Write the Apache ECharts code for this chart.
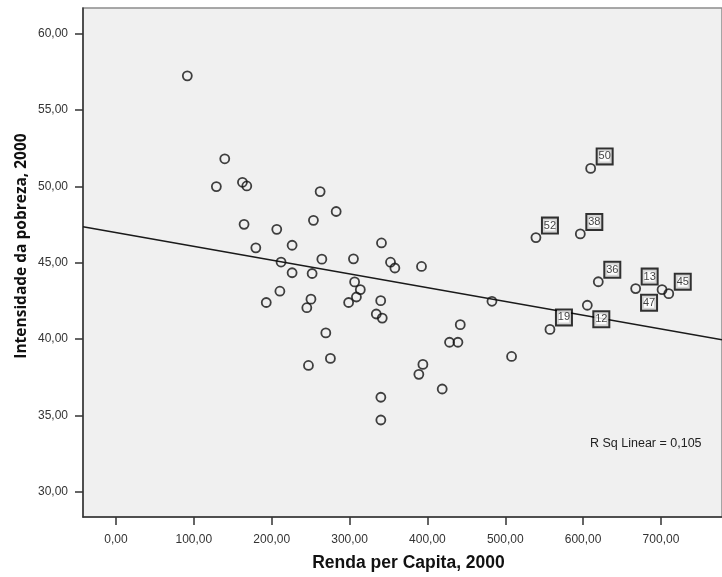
<!DOCTYPE html>
<html>
<head>
<meta charset="utf-8">
<script src="https://cdn.jsdelivr.net/npm/echarts@6/dist/echarts.min.js"></script>
<style>
  html, body { margin: 0; padding: 0; background: #fff; }
  #chart { width: 722px; height: 577px; }
</style>
</head>
<body>
<div id="chart"></div>
<script>
// Renda per capita (x) e intensidade da pobreza (y), pontos sem rótulo
const renda = [
  91.6, 139.7, 128.9, 162.4, 168, 262.2, 282.8, 164.5, 253.6, 206.5,
  179.6, 226.2, 212, 264.4, 305, 226.2, 251.9, 306.5, 210.5, 193,
  250.4, 245.1, 298.8, 308.8, 313.8, 269.5, 247.2, 275.4, 341, 352.6,
  358.2, 392.4, 340, 334.3, 342, 482.9, 442.2, 428.4, 439.2, 508.1,
  394.2, 389, 419, 340.2, 340.2
];
const pobreza = [
  57.24, 51.81, 49.99, 50.27, 50.03, 49.66, 48.36, 47.52, 47.78, 47.19,
  45.98, 46.15, 45.05, 45.24, 45.26, 44.35, 44.3, 43.75, 43.14, 42.4,
  42.62, 42.06, 42.4, 42.76, 43.24, 40.41, 38.28, 38.74, 46.3, 45.04,
  44.66, 44.76, 42.52, 41.65, 41.38, 42.48, 40.95, 39.8, 39.8, 38.87,
  38.35, 37.7, 36.74, 36.2, 34.71
];

// Casos rotulados
const caseIds = ["52", "38", "50", "36", "13", "47", "45", "19", "12"];
const caseRenda = [539.4, 596.4, 609.7, 619.5, 667.5, 701.4, 710, 557.4, 605.4];
const casePobreza = [46.65, 46.89, 51.18, 43.76, 43.31, 43.24, 42.98, 40.64, 42.22];

// Reta de regressão
const fitIntercept = 46.98;
const fitSlope = -0.00902;
const rSq = "0,105";

const xTicks = [0, 100, 200, 300, 400, 500, 600, 700];
const yTicks = [30, 35, 40, 45, 50, 55, 60];

const xMin = -42.4, xMax = 778.4;
const yMin = 28.36, yMax = 61.68;

// posição da caixa do rótulo em relação ao ponto
const labelOffset = { "47": [-13, 13], "12": [14, 14] };

const fmt = v => v.toFixed(2).replace(".", ",");

const plainPoints = renda.map((x, i) => [x, pobreza[i]]);
const labeledPoints = caseIds.map((id, i) => ({
  value: [caseRenda[i], casePobreza[i]],
  label: { offset: labelOffset[id] || [14, -12] },
  name: id
}));

const chart = echarts.init(document.getElementById("chart"));
const circle = {
  color: "rgba(0,0,0,0)",
  borderColor: "#111",
  borderWidth: 1.8
};

chart.setOption({
  animation: false,
  backgroundColor: "#fff",
  grid: {
    left: 83,
    top: 8,
    right: -3,
    bottom: 57,
    show: true,
    backgroundColor: "#f0f0f0",
    borderColor: "#8c8c8c",
    borderWidth: 1.5
  },
  xAxis: {
    type: "value",
    min: xMin,
    max: xMax,
    splitLine: { show: false },
    axisLine: { onZero: false, lineStyle: { color: "#333", width: 1.5 } },
    axisTick: { customValues: xTicks, length: 8, lineStyle: { color: "#333", width: 1.5 } },
    axisLabel: {
      customValues: xTicks,
      formatter: fmt,
      margin: 17,
      color: "#333",
      fontSize: 12,
      fontFamily: "Liberation Sans, Arial, sans-serif"
    },
    name: "Renda per Capita, 2000",
    nameLocation: "middle",
    nameGap: 37,
    nameTextStyle: {
      fontSize: 17.5,
      fontWeight: "bold",
      color: "#111",
      fontFamily: "Liberation Sans, Arial, sans-serif",
      padding: [0, 0, 0, 12]
    }
  },
  yAxis: {
    type: "value",
    min: yMin,
    max: yMax,
    splitLine: { show: false },
    axisLine: { onZero: false, lineStyle: { color: "#333", width: 1.5 } },
    axisTick: { customValues: yTicks, length: 8, lineStyle: { color: "#333", width: 1.5 } },
    axisLabel: {
      customValues: yTicks,
      formatter: fmt,
      margin: 15,
      color: "#333",
      fontSize: 12,
      fontFamily: "Liberation Sans, Arial, sans-serif"
    }
  },
  graphic: [
    {
      type: "text",
      x: 22,
      y: 246,
      rotation: Math.PI / 2,
      style: {
        text: "Intensidade da pobreza, 2000",
        fill: "#111",
        font: "bold 15.5px 'Open Sans', 'Liberation Sans', sans-serif",
        align: "center",
        verticalAlign: "middle"
      }
    },
    {
      type: "text",
      x: 590,
      y: 444,
      style: {
        text: "R Sq Linear = " + rSq,
        fill: "#222",
        font: "12.5px 'Liberation Sans', Arial, sans-serif",
        verticalAlign: "middle"
      }
    }
  ],
  series: [
    {
      type: "line",
      data: [
        [xMin, fitIntercept + fitSlope * xMin],
        [xMax, fitIntercept + fitSlope * xMax]
      ],
      symbol: "none",
      lineStyle: { color: "#1a1a1a", width: 1.5 },
      z: 2
    },
    {
      type: "scatter",
      data: plainPoints,
      symbol: "circle",
      symbolSize: 9,
      itemStyle: circle,
      z: 3
    },
    {
      type: "scatter",
      data: labeledPoints,
      symbol: "circle",
      symbolSize: 9,
      itemStyle: circle,
      z: 3,
      label: {
        show: true,
        position: "inside",
        formatter: p => p.name,
        color: "#111",
        fontSize: 11,
        fontFamily: "Liberation Sans Narrow, Arial Narrow, sans-serif",
        backgroundColor: "#fff",
        borderColor: "#000",
        borderWidth: 2,
        width: 14,
        height: 14,
        lineHeight: 14,
        align: "center",
        verticalAlign: "middle",
        padding: 0
      }
    }
  ]
});
</script>
</body>
</html>
